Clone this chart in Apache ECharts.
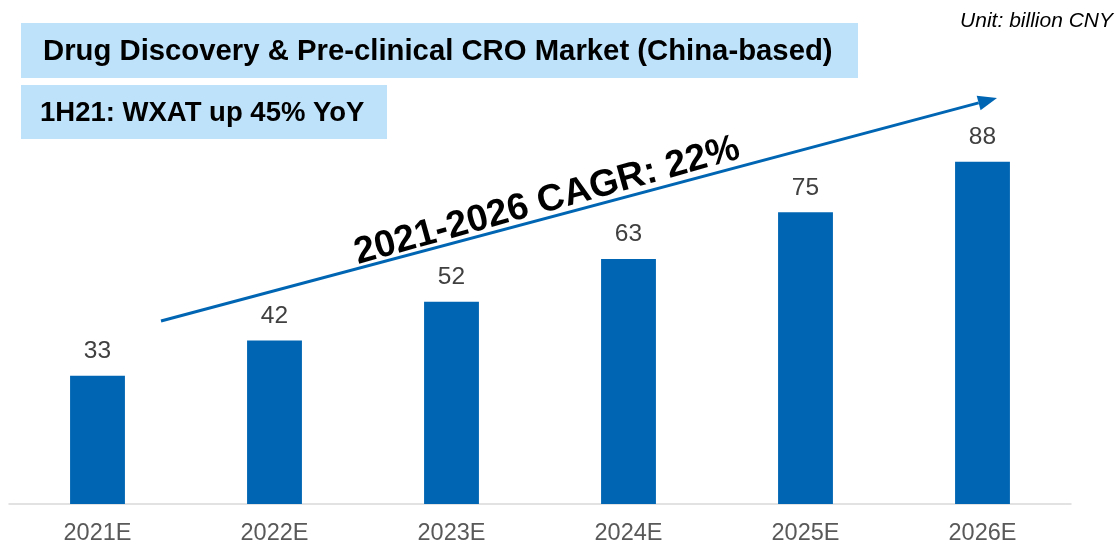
<!DOCTYPE html>
<html>
<head>
<meta charset="utf-8">
<script src="https://cdn.jsdelivr.net/npm/echarts@6/dist/echarts.min.js"></script>
<style>
html,body{margin:0;padding:0;background:#fff;}
#chart{width:1119px;height:548px;}
</style>
</head>
<body>
<div id="chart"></div>
<script>
var categories = ['2021E', '2022E', '2023E', '2024E', '2025E', '2026E'];
var marketValues = [33, 42, 52, 63, 75, 88];
var titleText = 'Drug Discovery & Pre-clinical CRO Market (China-based)';
var subtitleText = '1H21: WXAT up 45% YoY';
var cagrText = '2021-2026 CAGR: 22%';
var unitText = 'Unit: billion CNY';

var FONT = '"Liberation Sans", Arial, sans-serif';
var chart = echarts.init(document.getElementById('chart'));

// arrow geometry
var ax1 = 161, ay1 = 321, ax2 = 997, ay2 = 98;
var ang = Math.atan2(ay2 - ay1, ax2 - ax1);
var hl = 19, hw = 7.5;
var bx = ax2 - hl * Math.cos(ang), by = ay2 - hl * Math.sin(ang);
var head = [
  [ax2, ay2],
  [bx + hw * Math.sin(ang), by - hw * Math.cos(ang)],
  [bx - hw * Math.sin(ang), by + hw * Math.cos(ang)]
];

chart.setOption({
  animation: false,
  backgroundColor: '#ffffff',
  grid: { left: 9, right: 48, top: 115, bottom: 44, containLabel: false },
  xAxis: {
    type: 'category',
    data: categories,
    axisLine: { show: true, lineStyle: { color: '#d9d9d9', width: 1.5 } },
    axisTick: { show: false },
    axisLabel: { color: '#595959', fontSize: 23.5, fontFamily: FONT, margin: 18 }
  },
  yAxis: {
    type: 'value',
    min: 0,
    max: 100,
    show: false,
    splitLine: { show: false }
  },
  series: [{
    type: 'bar',
    data: marketValues,
    barWidth: '31%',
    itemStyle: { color: '#0066b3' },
    label: {
      show: true,
      position: 'top',
      distance: 12,
      color: '#404040',
      fontSize: 24.5,
      fontFamily: FONT
    }
  }],
  graphic: [
    { type: 'rect', shape: { x: 21, y: 23, width: 837, height: 55 }, style: { fill: '#bde2fa' }, z: 10 },
    { type: 'text', x: 43, y: 52, style: { text: titleText, font: 'bold 29.3px ' + FONT, fill: '#000', verticalAlign: 'middle' }, z: 11 },
    { type: 'rect', shape: { x: 21, y: 85, width: 366, height: 54 }, style: { fill: '#bde2fa' }, z: 10 },
    { type: 'text', x: 40, y: 113, style: { text: subtitleText, font: 'bold 27.5px ' + FONT, fill: '#000', verticalAlign: 'middle' }, z: 11 },
    { type: 'text', x: 1113, y: 21, style: { text: unitText, font: 'italic 21px ' + FONT, fill: '#000', align: 'right', verticalAlign: 'middle' }, z: 11 },
    { type: 'line', shape: { x1: ax1, y1: ay1, x2: bx, y2: by }, style: { stroke: '#0066b3', lineWidth: 3 }, z: 12 },
    { type: 'polygon', shape: { points: head }, style: { fill: '#0066b3' }, z: 12 },
    { type: 'text', x: 547, y: 201, rotation: 0.27, style: { text: cagrText, font: 'bold 37.5px ' + FONT, fill: '#000', align: 'center', verticalAlign: 'middle' }, z: 13 }
  ]
});
</script>
</body>
</html>
